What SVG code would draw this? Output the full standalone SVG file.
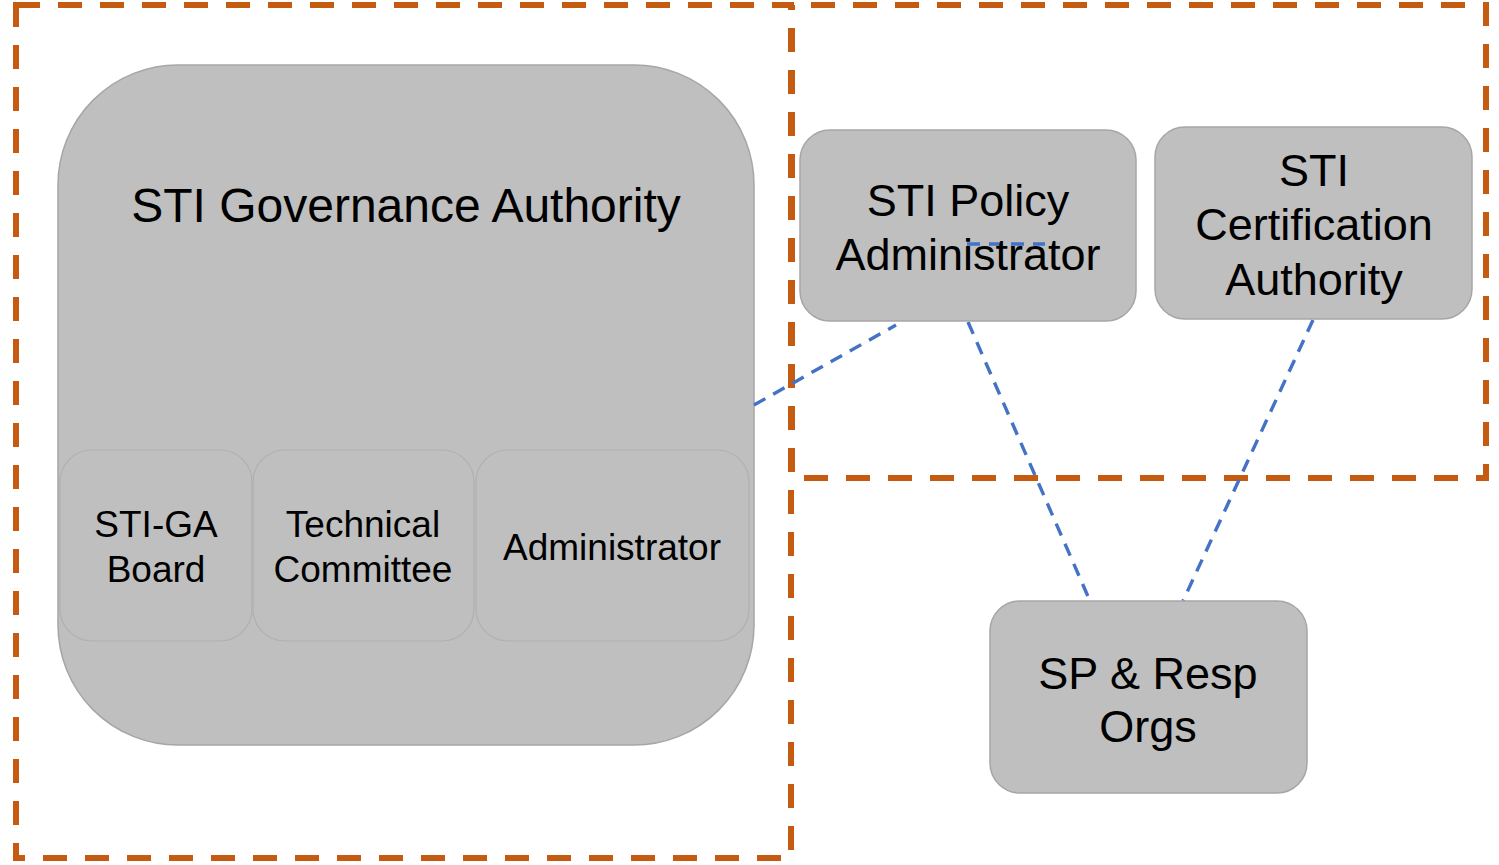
<svg xmlns="http://www.w3.org/2000/svg" width="1499" height="865" viewBox="0 0 1499 865">
  <style>
    .zone { fill: none; stroke: #c55a11; stroke-width: 6; stroke-dasharray: 24 18; }
    .box { fill: #bfbfbf; stroke: #a6a6a6; stroke-width: 1.5; }
    .sub { fill: #bfbfbf; stroke: #b0b0b0; stroke-width: 1.2; }
    .link { fill: none; stroke: #4472c4; stroke-width: 3.4; stroke-dasharray: 13 9; }
    text { font-family: "Liberation Sans", Arial, sans-serif; fill: #000; text-anchor: middle; }
    .t48 { font-size: 48px; }
    .t45 { font-size: 45px; }
    .t37 { font-size: 37px; }
  </style>

  <rect id="background" x="0" y="0" width="1499" height="865" fill="#ffffff"/>

  <!-- dashed zones; the right zone's shared edge runs in phase with the left one -->
  <g id="zones">
    <rect class="zone" x="16" y="5" width="775" height="853"/>
    <path class="zone" d="M792,5 V478 H1486 V5 Z" stroke-dashoffset="19"/>
  </g>

  <g id="governance-authority">
    <rect class="box" x="58" y="65" width="696" height="680" rx="120" ry="120"/>
    <text class="t48" x="406" y="222">STI Governance Authority</text>
  </g>

  <g id="sti-ga-board">
    <rect class="sub" x="60" y="450" width="192" height="191" rx="32" ry="32"/>
    <text class="t37" x="156" y="537">STI-GA</text>
    <text class="t37" x="156" y="582">Board</text>
  </g>

  <g id="technical-committee">
    <rect class="sub" x="253" y="450" width="221" height="191" rx="32" ry="32"/>
    <text class="t37" x="363" y="537">Technical</text>
    <text class="t37" x="363" y="582">Committee</text>
  </g>

  <g id="administrator">
    <rect class="sub" x="476" y="450" width="273" height="191" rx="32" ry="32"/>
    <text class="t37" x="612" y="560">Administrator</text>
  </g>

  <!-- connectors -->
  <g id="connectors">
    <line class="link" x1="754" y1="405" x2="896" y2="325"/>
    <line class="link" x1="968" y1="322" x2="1090" y2="601"/>
    <line class="link" x1="1313" y1="320" x2="1183" y2="601"/>
  </g>

  <g id="policy-administrator">
    <rect class="box" x="800" y="130" width="336" height="191" rx="30" ry="30"/>
    <line class="link" x1="967" y1="244" x2="1045" y2="244" stroke-width="1.5" stroke-dasharray="9 6"/>
    <text class="t45" x="968" y="216">STI Policy</text>
    <text class="t45" x="968" y="270">Administrator</text>
  </g>

  <g id="certification-authority">
    <rect class="box" x="1155" y="127" width="317" height="192" rx="30" ry="30"/>
    <text class="t45" x="1314" y="186">STI</text>
    <text class="t45" x="1314" y="240">Certification</text>
    <text class="t45" x="1314" y="295">Authority</text>
  </g>

  <g id="sp-resp-orgs">
    <rect class="box" x="990" y="601" width="317" height="192" rx="30" ry="30"/>
    <text class="t45" x="1148" y="689">SP &amp; Resp</text>
    <text class="t45" x="1148" y="742">Orgs</text>
  </g>
</svg>
